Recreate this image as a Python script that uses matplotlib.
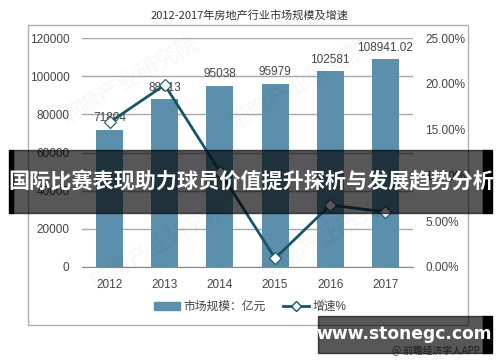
import matplotlib; matplotlib.use("Agg")
import matplotlib.pyplot as plt
from matplotlib.patches import Rectangle
from matplotlib.lines import Line2D

years = ["2012", "2013", "2014", "2015", "2016", "2017"]
scale = [71804, 88013, 95038, 95979, 102581, 108941.02]
scale_labels = ["71804", "88013", "95038", "95979", "102581", "108941.02"]
growth = [15.8, 19.9, 10.4, 0.92, 6.75, 6.0]
left_ticks = [0, 20000, 40000, 60000, 80000, 100000, 120000]
right_ticks = [0, 5, 10, 15, 20, 25]

plt.rcParams["font.family"] = ["Liberation Sans", "Noto Sans CJK SC", "DejaVu Sans"]
W, H = 500, 362
fig = plt.figure(figsize=(5, 3.62), dpi=100)
def fx(px): return px / W
def fy(py): return 1 - py / H

# outer frame
fig.patches.append(Rectangle((fx(28), fy(325)), fx(440), 300 / H, transform=fig.transFigure,
                             fill=False, edgecolor="#b0b0b0", linewidth=1.0, zorder=0))

ax = fig.add_axes([fx(82), fy(266.7), fx(413 - 82), 228.4 / H])
x = list(range(len(years)))
bar_c = "#5b8fab"; line_c = "#16546a"; txt_c = "#444444"
ax.bar(x, scale, width=0.49, color=bar_c, zorder=2)
for i, v in enumerate(scale):
    ax.annotate(scale_labels[i], (i, v), xytext=(0, 4), textcoords="offset points",
                ha="center", va="bottom", fontsize=8.5, color=txt_c, zorder=3)
ax.set_xlim(-0.5, 5.5)
ax.set_ylim(0, 120000)
ax.set_yticks(left_ticks)
ax.set_yticklabels([str(t) for t in left_ticks])
ax.set_xticks(x)
ax.set_xticklabels(years)
ax.grid(axis="y", color="#a8a8a8", linewidth=1.0, zorder=1)
ax.set_axisbelow(True)
for s in ["left", "right", "top"]:
    ax.spines[s].set_visible(False)
ax.spines["bottom"].set_color("#888888")
ax.tick_params(length=0, labelsize=8.5, labelcolor=txt_c, pad=9)

ax2 = ax.twinx()
ax2.plot(x, growth, color=line_c, linewidth=2.0, marker="D", markersize=6,
         markerfacecolor="white", markeredgecolor=line_c, markeredgewidth=0.8, zorder=4)
ax2.set_ylim(0, 25)
ax2.set_yticks(right_ticks)
ax2.set_yticklabels(["%.2f%%" % t for t in right_ticks])
for s in ["left", "right", "top", "bottom"]:
    ax2.spines[s].set_visible(False)
ax2.tick_params(length=0, labelsize=8.5, labelcolor=txt_c, pad=9)

fig.text(fx(249), fy(15), "2012-2017年房地产行业市场规模及增速", ha="center", va="center",
         fontsize=8, color="#333333", family=["Noto Sans CJK SC", "DejaVu Sans"])

# legend
handles = [Rectangle((0, 0), 1, 1, color=bar_c),
           Line2D([0], [0], color=line_c, linewidth=2.0, marker="D", markersize=5,
                  markerfacecolor="white", markeredgecolor=line_c)]
fig.legend(handles, ["市场规模：亿元", "增速%"], loc="center", bbox_to_anchor=(fx(250), fy(307)),
           ncol=2, frameon=False, fontsize=8.5, handlelength=2.2, handleheight=0.6,
           columnspacing=1.5, handletextpad=0.3, labelcolor=txt_c)

# faint watermarks
for (px, py) in [(130, 80), (300, 85), (160, 245), (330, 235)]:
    fig.text(fx(px), fy(py), "前瞻产业研究院", rotation=30, fontsize=16, color="#000000",
             alpha=0.035, ha="center", va="center", family=["Noto Sans CJK SC"], zorder=5)

# banner overlay
fig.patches.append(Rectangle((fx(13), fy(213)), fx(470), 63 / H, transform=fig.transFigure,
                             color="black", alpha=0.66, zorder=10))
fig.patches.append(Rectangle((fx(9), fy(213)), fx(4), 63 / H, transform=fig.transFigure,
                             color="black", zorder=10))
fig.patches.append(Rectangle((fx(483), fy(213)), fx(9), 63 / H, transform=fig.transFigure,
                             color="black", zorder=10))
fig.text(fx(251), fy(181.5), "国际比赛表现助力球员价值提升探析与发展趋势分析", ha="center", va="center",
         fontsize=15.2, color="white", fontweight="bold",
         family=["Noto Sans CJK SC", "DejaVu Sans"], zorder=11)

# site watermark
fig.patches.append(Rectangle((fx(318), fy(353)), fx(165), 37 / H, transform=fig.transFigure,
                             color="black", alpha=0.66, zorder=10))
fig.patches.append(Rectangle((fx(483), fy(353)), fx(9), 37 / H, transform=fig.transFigure,
                             color="black", zorder=10))
fig.text(fx(404), fy(334), "www.stonegc.com", ha="center", va="center", fontsize=12.3,
         color="white", fontweight="bold", family=["DejaVu Sans"], zorder=11)
fig.text(fx(480), fy(351), "@ 前瞻经济学人APP", ha="right", va="center", fontsize=7,
         color="#555555", family=["Noto Sans CJK SC", "DejaVu Sans"], zorder=9)

fig.savefig("out.png", dpi=100)
